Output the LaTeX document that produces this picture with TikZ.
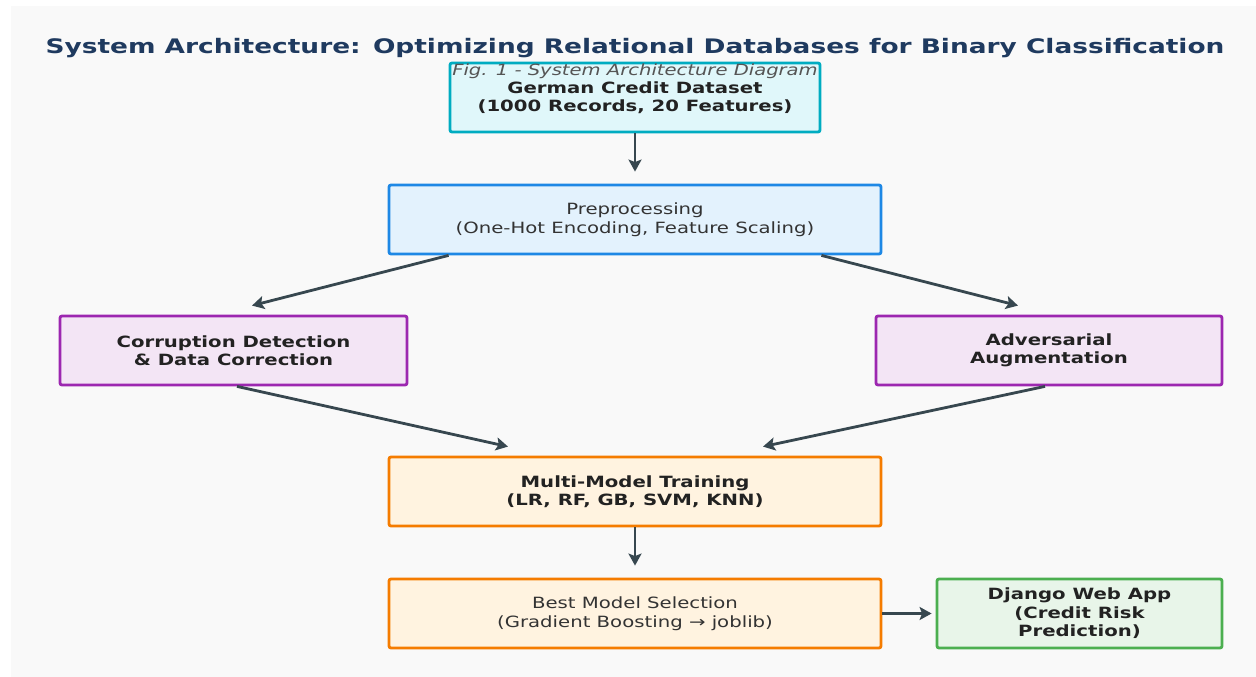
\documentclass[tikz,border=0pt]{standalone}
\usepackage{fontspec}
\setmainfont{DejaVu Sans}[FakeStretch=1.27, BoldFont={DejaVu Sans Bold}, ItalicFont={DejaVu Sans Oblique}]
\newfontfamily\titlefont{DejaVu Sans Bold}[FakeStretch=1.32]
\usetikzlibrary{arrows.meta,calc}
\definecolor{bgc}{HTML}{F9F9F9}
\definecolor{titlec}{HTML}{1F3A5F}
\definecolor{subc}{HTML}{555555}
\definecolor{txtb}{HTML}{222222}
\definecolor{txtr}{HTML}{333333}
\definecolor{arrc}{HTML}{37474F}
\definecolor{cyanD}{HTML}{00ACC1}\definecolor{cyanL}{HTML}{E0F7FA}
\definecolor{blueD}{HTML}{1E88E5}\definecolor{blueL}{HTML}{E3F2FD}
\definecolor{purpD}{HTML}{9C27B0}\definecolor{purpL}{HTML}{F3E5F5}
\definecolor{oranD}{HTML}{F57C00}\definecolor{oranL}{HTML}{FFF3E0}
\definecolor{greeD}{HTML}{4CAF50}\definecolor{greeL}{HTML}{E8F5E9}
\tikzset{
  box/.style={draw, line width=2.8pt, rounded corners=2pt, minimum height=69pt, align=center, inner sep=0pt,
    font=\fontsize{15.5}{18.5}\selectfont},
  boldtxt/.style={text=txtb, font=\fontsize{15.5}{18.5}\selectfont\bfseries},
  regtxt/.style={text=txtr},
  arr/.style={draw=arrc, line width=2.8pt, -{Stealth[length=12pt,width=13pt,inset=2.5pt]}},
}
\begin{document}
\begin{tikzpicture}[x=1pt,y=-1pt]
\useasboundingbox (0,0) rectangle (1256,677);
\fill[bgc] (11,6) rectangle (1256,677);
\node[anchor=base, text=titlec, font=\fontsize{20}{24}\titlefont] (title) at (635,54)
  {System Architecture: Optimizing Relational Databases for Binary Classification};
\node[box, draw=cyanD, fill=cyanL, minimum width=370pt, boldtxt] (ds) at (635,97.5)
  {German Credit Dataset\\(1000 Records, 20 Features)};
\node[anchor=base, text=subc, font=\fontsize{15.4}{18}\selectfont\itshape] (sub) at (635,76)
  {Fig. 1 - System Architecture Diagram};
\node[box, draw=blueD, fill=blueL, minimum width=492pt, regtxt] (pre) at (635,219.5)
  {Preprocessing\\(One-Hot Encoding, Feature Scaling)};
\node[box, draw=purpD, fill=purpL, minimum width=347pt, boldtxt] (cor) at (233.5,350.5)
  {Corruption Detection\\\& Data Correction};
\node[box, draw=purpD, fill=purpL, minimum width=346pt, boldtxt] (adv) at (1049,350.5)
  {Adversarial\\Augmentation};
\node[box, draw=oranD, fill=oranL, minimum width=492pt, boldtxt] (mm) at (635,491.5)
  {Multi-Model Training\\(LR, RF, GB, SVM, KNN)};
\node[box, draw=oranD, fill=oranL, minimum width=492pt, regtxt] (best) at (635,613.5)
  {Best Model Selection\\(Gradient Boosting → joblib)};
\node[box, draw=greeD, fill=greeL, minimum width=285pt, boldtxt] (dj) at (1079.5,613.5)
  {Django Web App\\(Credit Risk\\Prediction)};
\draw[arr, shorten >=12pt] (ds.south) -- (pre.north);
\draw[arr] ($(pre.south west)+(61,0)$) -- ($(cor.north)+(18.5,-9)$);
\draw[arr] ($(pre.south east)+(-61,0)$) -- ($(adv.north)+(-31,-9)$);
\draw[arr] ($(cor.south)+(3.5,0)$) -- ($(mm.north)+(-127,-9)$);
\draw[arr] ($(adv.south)+(-4,0)$) -- ($(mm.north)+(128,-9)$);
\draw[arr, shorten >=12pt] (mm.south) -- (best.north);
\draw[arr, shorten >=4pt] (best.east) -- (dj.west);
\end{tikzpicture}
\end{document}
